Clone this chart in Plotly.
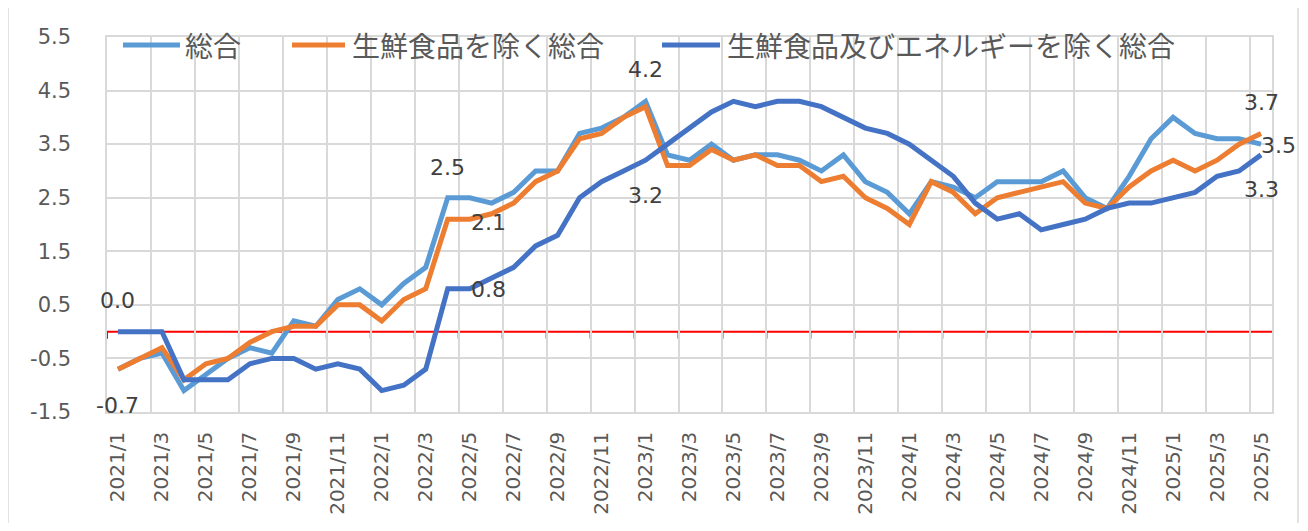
import plotly.graph_objects as go

# ---------------- data ----------------
months = [f"{y}/{m}" for y in range(2021, 2026) for m in range(1, 13)][:53]

headline = [-0.7, -0.5, -0.4, -1.1, -0.8, -0.5, -0.3, -0.4, 0.2, 0.1, 0.6, 0.8,
            0.5, 0.9, 1.2, 2.5, 2.5, 2.4, 2.6, 3.0, 3.0, 3.7, 3.8, 4.0,
            4.3, 3.3, 3.2, 3.5, 3.2, 3.3, 3.3, 3.2, 3.0, 3.3, 2.8, 2.6,
            2.2, 2.8, 2.7, 2.5, 2.8, 2.8, 2.8, 3.0, 2.5, 2.3, 2.9, 3.6,
            4.0, 3.7, 3.6, 3.6, 3.5]

core = [-0.7, -0.5, -0.3, -0.9, -0.6, -0.5, -0.2, 0.0, 0.1, 0.1, 0.5, 0.5,
        0.2, 0.6, 0.8, 2.1, 2.1, 2.2, 2.4, 2.8, 3.0, 3.6, 3.7, 4.0,
        4.2, 3.1, 3.1, 3.4, 3.2, 3.3, 3.1, 3.1, 2.8, 2.9, 2.5, 2.3,
        2.0, 2.8, 2.6, 2.2, 2.5, 2.6, 2.7, 2.8, 2.4, 2.3, 2.7, 3.0,
        3.2, 3.0, 3.2, 3.5, 3.7]

core_core = [0.0, 0.0, 0.0, -0.9, -0.9, -0.9, -0.6, -0.5, -0.5, -0.7, -0.6, -0.7,
             -1.1, -1.0, -0.7, 0.8, 0.8, 1.0, 1.2, 1.6, 1.8, 2.5, 2.8, 3.0,
             3.2, 3.5, 3.8, 4.1, 4.3, 4.2, 4.3, 4.3, 4.2, 4.0, 3.8, 3.7,
             3.5, 3.2, 2.9, 2.4, 2.1, 2.2, 1.9, 2.0, 2.1, 2.3, 2.4, 2.4,
             2.5, 2.6, 2.9, 3.0, 3.3]

series_names = ["総合", "生鮮食品を除く総合", "生鮮食品及びエネルギーを除く総合"]
series_values = [headline, core, core_core]
series_colors = ["#5B9BD5", "#ED7D31", "#4472C4"]

y_ticks = [-1.5, -0.5, 0.5, 1.5, 2.5, 3.5, 4.5, 5.5]

# ---------------- layout constants ----------------
# page has an 8px body margin; the figure sits at (8, 8)
OFF = 8
W, H = 1292, 515
PL, PT, PR, PB = 107, 37, 1272, 412          # plot area in page pixels
L, T = PL - OFF, PT - OFF
R = OFF + W - PR
B = OFF + H - PB
PW, PH = PR - PL, PB - PT

def px_x(px):
    return (px - PL) / PW

def px_y(py):
    return (PB - py) / PH

NUM_FONT = "DejaVu Sans, Noto Sans CJK JP, sans-serif"
JP_FONT = "Noto Sans CJK JP, DejaVu Sans, sans-serif"

xs = list(range(len(months)))

fig = go.Figure()
for name, vals, col in zip(series_names, series_values, series_colors):
    fig.add_trace(go.Scatter(x=xs, y=vals, mode="lines", name=name,
                             line=dict(color=col, width=5),
                             showlegend=False))

shapes = []
# x-axis line at zero (red) with tick marks
shapes.append(dict(type="line", xref="paper", yref="y", x0=0, x1=1, y0=0, y1=0,
                   line=dict(color="#FF0000", width=2), layer="below"))
for k in range(27):
    xv = -0.5 + 2 * k
    shapes.append(dict(type="line", xref="x", yref="y", ysizemode="pixel", yanchor=0,
                       x0=xv, x1=xv, y0=0, y1=-7,
                       line=dict(color="#FF0000", width=2), layer="below"))
# outer chart border
shapes.append(dict(type="rect", xref="paper", yref="paper",
                   x0=px_x(8), x1=px_x(1298), y0=px_y(560), y1=px_y(7),
                   line=dict(color="#D9D9D9", width=1.5), fillcolor="rgba(0,0,0,0)"))

# manual legend
legend_items = [(123, 180, 183), (292, 345, 350), (662, 720, 725)]
annotations = []
LEG_Y = 45
for (lx0, lx1, tx), name, col in zip(legend_items, series_names, series_colors):
    shapes.append(dict(type="line", xref="paper", yref="paper",
                       x0=px_x(lx0), x1=px_x(lx1), y0=px_y(LEG_Y), y1=px_y(LEG_Y),
                       line=dict(color=col, width=5)))
    annotations.append(dict(xref="paper", yref="paper", x=px_x(tx), y=px_y(LEG_Y),
                            text=name, showarrow=False, xanchor="left", yanchor="middle",
                            font=dict(family=JP_FONT, size=28, color="#595959")))

# data labels: (series index, point index, xshift, yshift, xanchor)
data_labels = [
    (2, 0, 0, 31, "center"),
    (0, 0, 0, -36, "center"),
    (0, 15, 0, 30, "center"),
    (1, 15, 21, -3, "left"),
    (2, 15, 21, -1, "left"),
    (1, 24, 0, 37, "center"),
    (2, 24, 0, -35, "center"),
    (1, 52, 0, 31, "center"),
    (0, 52, -2, -1, "left"),
    (2, 52, 0, -35, "center"),
]
for si, pi, xsft, ysft, xa in data_labels:
    v = series_values[si][pi]
    annotations.append(dict(xref="x", yref="y", x=xs[pi], y=v, text=f"{v:.1f}",
                            showarrow=False, xanchor=xa, yanchor="middle",
                            xshift=xsft, yshift=ysft,
                            font=dict(family=NUM_FONT, size=22, color="#404040")))

grid_col = "#D9D9D9"
fig.update_layout(
    width=W, height=H,
    margin=dict(l=L, r=R, t=T, b=B, pad=0, autoexpand=False),
    paper_bgcolor="white", plot_bgcolor="white",
    shapes=shapes, annotations=annotations,
    xaxis=dict(range=[-0.5, 52.5], tickmode="array", automargin=False,
               tickvals=xs[::2], ticktext=months[::2], tickangle=-90,
               showgrid=False, zeroline=False, ticks="",
               ticklabelstandoff=10,
               tickfont=dict(family=NUM_FONT, size=20, color="#595959"),
               showline=True, mirror=True, linecolor=grid_col, linewidth=1.5,
               minor=dict(tickmode="array", tickvals=[-0.5 + 2 * k for k in range(27)],
                          showgrid=True, gridcolor=grid_col, gridwidth=1.5, ticks="")),
    yaxis=dict(range=[-1.5, 5.5], tickmode="array", tickvals=y_ticks, automargin=False,
               ticktext=[f"{t:.1f}" for t in y_ticks],
               showgrid=True, gridcolor=grid_col, gridwidth=1.5, zeroline=False,
               ticks="", ticklabelstandoff=30,
               tickfont=dict(family=NUM_FONT, size=21, color="#595959"),
               showline=True, mirror=True, linecolor=grid_col, linewidth=1.5),
)

fig.write_html("out.html")
